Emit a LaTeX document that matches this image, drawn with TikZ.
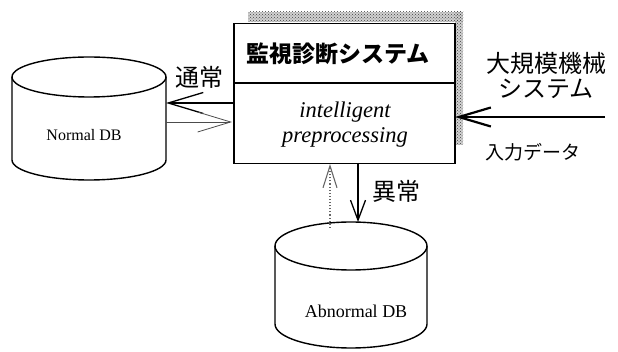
\documentclass[tikz,border=0pt]{standalone}
\usepackage{fontspec}
\setmainfont{Liberation Serif}
\newfontfamily\cjk{Noto Sans CJK JP}
\usetikzlibrary{arrows.meta,patterns}
\begin{document}
\begin{tikzpicture}[x=1pt,y=-1pt,
  line width=1.3pt,
  dbline/.style={line width=1.4pt},
  cjklabel/.style={font=\cjk\fontsize{24}{26}\selectfont, inner sep=0pt},
  dblabel/.style={font=\fontsize{18}{20}\selectfont, inner sep=0pt},
  barb/.style 2 args={-{Straight Barb[length=#1, width=#2]}},
  shadowband/.style={draw=none, fill=black!18},
  shadowdots/.style={draw=none, pattern=crosshatch dots, pattern color=black!75},
]
\useasboundingbox (0,0) rectangle (618,352);
% shadow bands of the main box
\fill[shadowband] (248,12) rectangle (463,22);
\fill[shadowband] (455,12) rectangle (463,145);
\fill[shadowdots] (248,12) rectangle (463,22);
\fill[shadowdots] (455,12) rectangle (463,145);
% main box
\node[draw, line width=1.5pt, fill=white, minimum width=221pt, minimum height=140pt, inner sep=0pt, anchor=north west] (box) at (233,23) {};
\coordinate (divL) at (233,83);
\coordinate (divR) at (454,83);
\draw[line width=1.2pt] (divL) -- (divR);
\node[font=\cjk\bfseries\fontsize{23}{25}\selectfont, inner sep=0pt] (title) at (338,54) {監視診断システム};
\node[font=\itshape\fontsize{22.5}{24}\selectfont, inner sep=0pt] (intel) at (345,112) {intelligent};
\node[font=\itshape\fontsize{22.5}{24}\selectfont, inner sep=0pt] (prep) at (345,137) {preprocessing};
% Normal DB cylinder
\begin{scope}[dbline]
\draw (89,77) ellipse [x radius=77, y radius=20];
\draw (12,77) -- (12,160) arc [start angle=180, end angle=0, x radius=77, y radius=20] -- (166,77);
\end{scope}
\node[dblabel, font=\fontsize{16}{18}\selectfont] (ndb) at (84,135) {Normal DB};
% Abnormal DB cylinder
\begin{scope}[dbline]
\draw (351,246) ellipse [x radius=76, y radius=24];
\draw (275,246) -- (275,324) arc [start angle=180, end angle=0, x radius=76, y radius=24] -- (427,246);
\end{scope}
\node[dblabel] (adb) at (356,311) {Abnormal DB};
% connector end points
\coordinate (nIn) at (166,103);
\coordinate (bOut) at (233,103);
\coordinate (nOut) at (166,122);
\coordinate (bIn) at (232,122);
\coordinate (bDown) at (358,163);
\coordinate (aIn) at (358,222);
\coordinate (aOut) at (330,228);
\coordinate (bUp) at (330,164);
\coordinate (src) at (605,117);
\coordinate (bRight) at (455,117);
% connectors
\draw[barb={35pt}{21pt}] (bOut) -- (nIn);
\draw[barb={33pt}{20pt}, line width=0.8pt, draw=black!70] (nOut) -- (bIn);
\draw[barb={20pt}{15pt}] (bDown) -- (aIn);
\draw[barb={22pt}{14pt}, dotted, line width=1.1pt, draw=black!60] (aOut) -- (bUp);
\draw[barb={32pt}{19pt}, line width=2.2pt] (src) -- (bRight);
% labels
\node[cjklabel] (normal) at (199,77) {通常};
\node[cjklabel] (abn) at (396,191) {異常};
\node[cjklabel] (sys1) at (546,63) {大規模機械};
\node[cjklabel] (sys2) at (546,89) {システム};
\node[font=\cjk\fontsize{19}{21}\selectfont, inner sep=0pt] (inp) at (533,152) {入力データ};
\end{tikzpicture}
\end{document}
